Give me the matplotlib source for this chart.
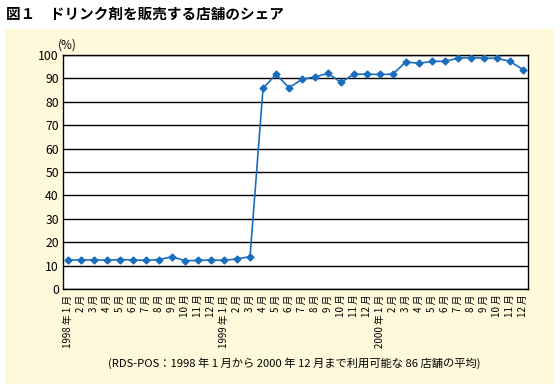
import matplotlib.pyplot as plt
from matplotlib.patches import Rectangle

plt.rcParams['font.family'] = ['Noto Sans CJK JP', 'DejaVu Sans']

# monthly share of stores selling drink products (%)
months = ['1998 年 1 月'] + [f'{m} 月' for m in range(2, 13)] \
    + ['1999 年 1 月'] + [f'{m} 月' for m in range(2, 13)] \
    + ['2000 年 1 月'] + [f'{m} 月' for m in range(2, 13)]
share = [12.4, 12.4, 12.4, 12.3, 12.6, 12.4, 12.2, 12.6, 13.8, 12.1, 12.2, 12.4,
         12.2, 12.9, 13.8, 85.7, 91.8, 86.0, 89.6, 90.7, 92.1, 88.3, 91.8, 91.8,
         91.7, 91.8, 97.1, 96.4, 97.3, 97.3, 98.6, 98.9, 98.6, 98.6, 97.3, 93.8]
yticks = list(range(0, 101, 10))

title = '図１　ドリンク剤を販売する店舗のシェア'
note = '(RDS-POS：1998 年 1 月から 2000 年 12 月まで利用可能な 86 店舗の平均)'

fig = plt.figure(figsize=(5.6, 3.9), dpi=100)
fig.patch.set_facecolor('white')

# yellow panel behind the chart
fig.patches.append(Rectangle((5 / 560, 1 - 384 / 390), 549 / 560, 355 / 390,
                             transform=fig.transFigure, facecolor='#fff9dc',
                             edgecolor='none', zorder=-5))

fig.text(6 / 560, 1 - 14 / 390, title, fontsize=10.5, fontweight='bold',
         va='center', ha='left')

ax = fig.add_axes([63 / 560, 1 - 289 / 390, 465 / 560, 234 / 390])
ax.set_zorder(1)
ax.set_facecolor('white')
x = list(range(len(share)))
ax.plot(x, share, color='#1a6dbd', lw=1.2, marker='D', markersize=3.5, zorder=3)

ax.set_xlim(-0.4, len(share) - 0.6)
ax.set_ylim(0, 100)
ax.set_yticks(yticks)
ax.set_yticklabels([str(t) for t in yticks], fontsize=8.8)
ax.set_xticks(x)
ax.set_xticklabels(months, rotation=90, fontsize=7, va='top', ha='center')
ax.tick_params(axis='both', length=0, pad=3)
ax.tick_params(axis='x', pad=4)
ax.grid(axis='y', color='black', lw=1)
ax.set_axisbelow(True)
for s in ax.spines.values():
    s.set_color('black')
    s.set_linewidth(1)

fig.text(67 / 560, 1 - 45 / 390, '(%)', fontsize=8.5, ha='center', va='center')
fig.text(294 / 560, 1 - 363 / 390, note, fontsize=8.1, ha='center', va='center')

fig.savefig('out.png', dpi=100)
